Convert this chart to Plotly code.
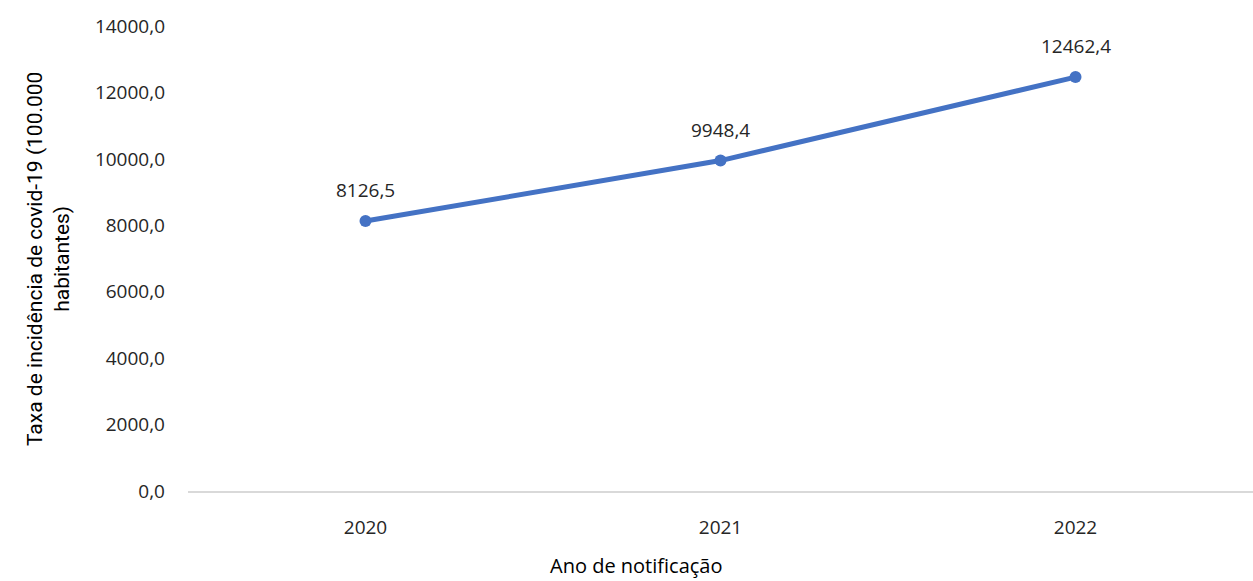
import plotly.graph_objects as go

# Incidence rate of covid-19 per 100.000 inhabitants, by year of notification
anos = ["2020", "2021", "2022"]
taxas = [8126.5, 9948.4, 12462.4]
rotulos = ["8126,5", "9948,4", "12462,4"]
y_ticks = [0, 2000, 4000, 6000, 8000, 10000, 12000, 14000]

azul = "#4472C4"
texto = "#262626"
fonte = "Open Sans, Segoe UI, sans-serif"

fig = go.Figure()
fig.add_trace(go.Scatter(
    x=anos, y=taxas, mode="lines+markers",
    line=dict(color=azul, width=5),
    marker=dict(color=azul, size=12),
    hoverinfo="skip", showlegend=False,
))

# value labels above each point (category index positions)
for i, (v, t) in enumerate(zip(taxas, rotulos)):
    fig.add_annotation(x=i, y=v, xref="x", yref="y", text=t, showarrow=False, yshift=31,
                       font=dict(family=fonte, size=19, color=texto))

# axis titles
fig.add_annotation(xref="paper", yref="paper", x=(48 - 188) / 1065, y=0.5 - 0.5 / 465,
                   text="Taxa de incidência de covid-19 (100.000<br>habitantes)",
                   textangle=-90, showarrow=False, xanchor="center", yanchor="middle",
                   font=dict(family="Roboto, sans-serif", size=21, color="#000000"))
fig.add_annotation(xref="paper", yref="paper", x=(636 - 188) / 1065, y=(491 - 565) / 465,
                   text="Ano de notificação", showarrow=False, xanchor="center", yanchor="middle",
                   borderpad=0,
                   font=dict(family=fonte, size=20, color="#000000"))

fig.update_layout(
    width=1253, height=581,
    margin=dict(l=188, r=0, t=26, b=90),
    paper_bgcolor="white", plot_bgcolor="white",
    separators=",.",
    font=dict(family=fonte, size=19, color=texto),
    xaxis=dict(type="category", range=[-0.5, 2.5], showgrid=False, zeroline=False,
               showline=True, linecolor="#d9d9d9", linewidth=1.5,
               ticks="", ticklabelstandoff=18,
               tickfont=dict(family=fonte, size=19, color=texto)),
    yaxis=dict(range=[0, 14000], tickvals=y_ticks, tickformat=".1f",
               showgrid=False, zeroline=False, showline=False, ticks="",
               ticklabelstandoff=22,
               tickfont=dict(family=fonte, size=19, color=texto)),
)

fig.write_html("out.html")
